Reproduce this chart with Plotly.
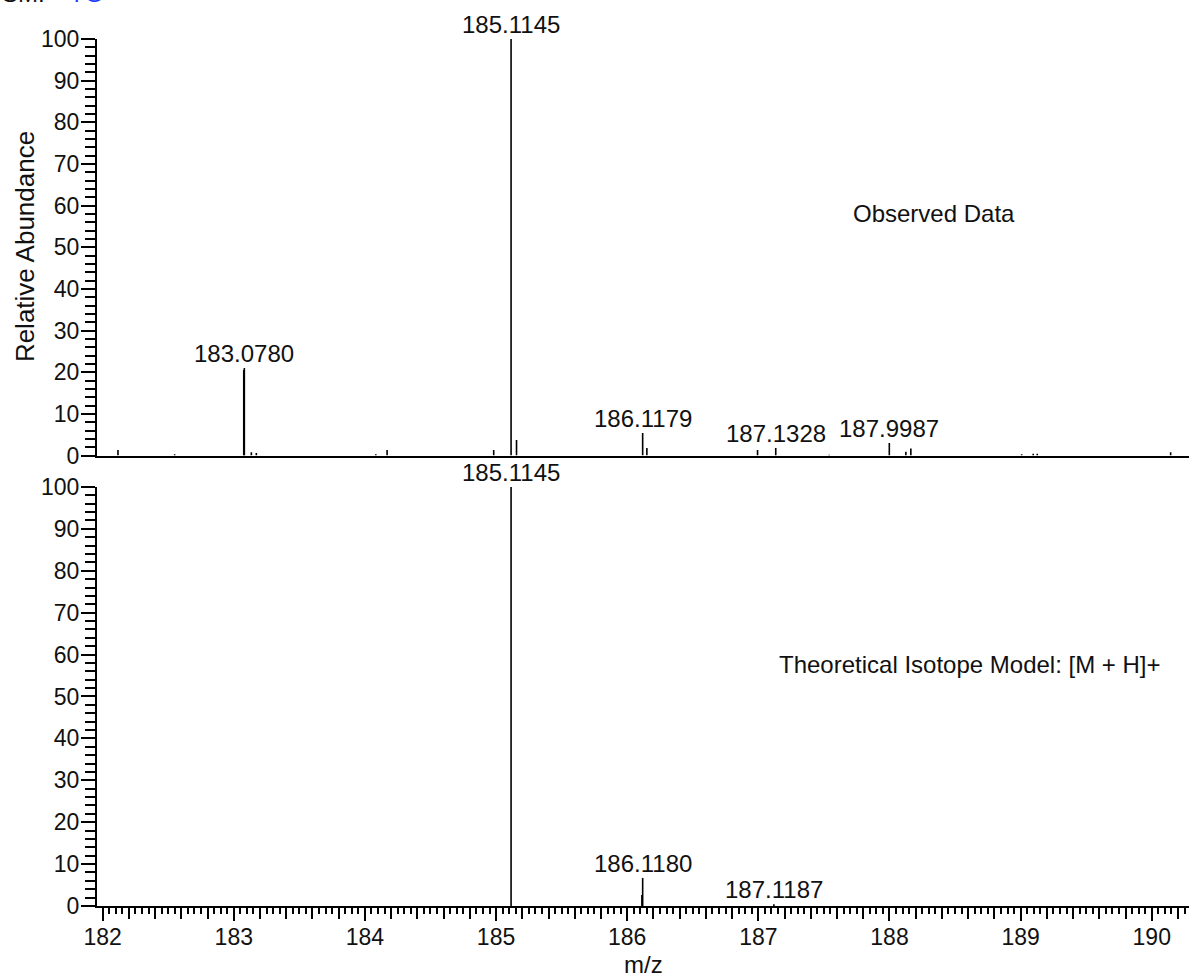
import plotly.graph_objects as go

# ---------------- data ----------------
obs_mz = [182.117, 182.549, 183.076, 183.0805, 183.134, 183.172, 184.083, 184.169,
          184.982, 185.1145, 185.156, 186.1179, 186.150, 186.994, 187.1328, 187.540,
          187.9987, 188.125, 188.163, 189.008, 189.096, 189.127, 190.144]
obs_int = [1.3, 0.3, 20.5, 21.0, 0.8, 0.6, 0.3, 1.3,
           1.3, 100.0, 3.7, 5.4, 1.8, 1.3, 1.8, 0.2,
           3.0, 0.9, 1.7, 0.3, 0.4, 0.4, 0.8]

theo_mz = [185.1145, 186.112, 186.1180, 187.1187]
theo_int = [100.0, 2.6, 6.7, 0.4]

obs_label_mz = [185.1145, 183.0780, 186.1179, 187.1328, 187.9987]
obs_label_int = [100.0, 21.0, 5.4, 1.8, 3.0]
obs_label_txt = ["185.1145", "183.0780", "186.1179", "187.1328", "187.9987"]

theo_label_mz = [185.1145, 186.1180, 187.1187]
theo_label_int = [100.0, 6.7, 0.4]
theo_label_txt = ["185.1145", "186.1180", "187.1187"]

x_range = [181.957, 190.284]
y_ticks = list(range(0, 101, 10))
x_major = list(range(182, 191))

FONT = "Liberation Sans, Arial, Helvetica, sans-serif"
FS = 23     # tick labels
FA = 24     # annotations


def sticks(mz, inten):
    xs, ys = [], []
    for m, v in zip(mz, inten):
        xs += [m, m, None]
        ys += [0, v, None]
    return xs, ys


fig = go.Figure()
ox, oy = sticks(obs_mz, obs_int)
tx, ty = sticks(theo_mz, theo_int)
fig.add_trace(go.Scatter(x=ox, y=oy, mode="lines", line=dict(color="black", width=1.6),
                         xaxis="x", yaxis="y", showlegend=False, hoverinfo="skip"))
fig.add_trace(go.Scatter(x=tx, y=ty, mode="lines", line=dict(color="black", width=1.6),
                         xaxis="x2", yaxis="y2", showlegend=False, hoverinfo="skip"))
fig.add_trace(go.Scatter(x=[x_range[0]], y=[0], mode="markers", marker=dict(opacity=0),
                         xaxis="x3", yaxis="y2", showlegend=False, hoverinfo="skip"))

ann = []
for m, v, t in zip(obs_label_mz, obs_label_int, obs_label_txt):
    ann.append(dict(x=m, y=v, xref="x", yref="y", text=t, showarrow=False,
                    xanchor="center", yanchor="bottom", yshift=-1,
                    font=dict(size=FA, color="#111")))
for m, v, t in zip(theo_label_mz, theo_label_int, theo_label_txt):
    ann.append(dict(x=m, y=v, xref="x2", yref="y2", text=t, showarrow=False,
                    xanchor="center", yanchor="bottom", yshift=-1,
                    font=dict(size=FA, color="#111")))

ann += [
    dict(x=0.7665, y=0.7993, xref="paper", yref="paper", text="Observed Data",
         showarrow=False, xanchor="center", yanchor="middle", font=dict(size=FA, color="#111")),
    dict(x=0.7995, y=0.278, xref="paper", yref="paper", text="Theoretical Isotope Model: [M + H]+",
         showarrow=False, xanchor="center", yanchor="middle", font=dict(size=FA, color="#111")),
    dict(x=-0.0659, y=0.76, xref="paper", yref="paper", text="Relative Abundance",
         showarrow=False, textangle=-90, xanchor="center", yanchor="middle",
         font=dict(size=26, color="#111")),
    dict(x=0.5, y=-0.068, xref="paper", yref="paper", text="m/z",
         showarrow=False, xanchor="center", yanchor="middle", font=dict(size=FA, color="#111")),
    dict(x=-0.0888, y=1.0345, xref="paper", yref="paper",
         text="SM:&nbsp;&nbsp;&nbsp;&nbsp;<span style='color:#1a3cff'>7G</span>",
         showarrow=False, xanchor="left", yanchor="bottom", font=dict(size=FA, color="#111")),
]

yax = dict(range=[0, 100], tickmode="array", tickvals=y_ticks, ticks="outside", ticklen=14,
           tickwidth=1.5, tickcolor="black", showline=True, linecolor="black", linewidth=2,
           showgrid=False, zeroline=False, tickfont=dict(size=FS, color="#111"),
           ticklabelstandoff=-3,
           minor=dict(dtick=2, tick0=0, ticks="outside", ticklen=10, tickwidth=1.5,
                      tickcolor="black", showgrid=False),
           fixedrange=True)

fig.update_layout(
    width=1189, height=980,
    margin=dict(l=97, r=0, t=39, b=74),
    paper_bgcolor="white", plot_bgcolor="white",
    font=dict(family=FONT, size=FS, color="#111"),
    xaxis=dict(domain=[0, 1], range=x_range, anchor="y", showline=True, linecolor="black",
               linewidth=2, ticks="", showticklabels=False, showgrid=False, zeroline=False,
               matches="x2"),
    yaxis=dict(domain=[0.5196, 1], anchor="x", **yax),
    xaxis2=dict(domain=[0, 1], range=x_range, anchor="y2", showline=True, linecolor="black",
                linewidth=2, tickmode="linear", tick0=182, dtick=0.2, ticks="outside",
                ticklen=11, tickwidth=1.5, tickcolor="black", showticklabels=False,
                showgrid=False, zeroline=False,
                minor=dict(tick0=182, dtick=0.05, ticks="outside", ticklen=6, tickwidth=1.5,
                           tickcolor="black", showgrid=False)),
    xaxis3=dict(range=x_range, anchor="y2", overlaying="x2", side="bottom",
                tickmode="array", tickvals=x_major, ticktext=[str(v) for v in x_major],
                ticks="outside", ticklen=14, tickwidth=1.5, tickcolor="black",
                showline=False, showgrid=False, zeroline=False, ticklabelstandoff=-4,
                tickfont=dict(size=FS, color="#111")),
    yaxis2=dict(domain=[0, 0.4833], anchor="x2", **yax),
    annotations=ann,
)

fig.write_html("out.html", config={"displayModeBar": False},
               post_script="document.body.style.margin='0';document.body.style.overflow='hidden';")
